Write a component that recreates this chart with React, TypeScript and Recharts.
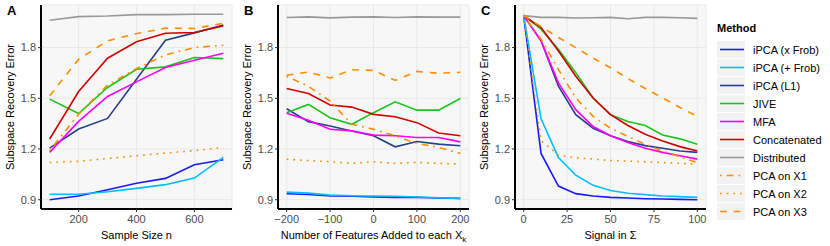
import { LineChart, Line, XAxis, YAxis, CartesianGrid } from 'recharts'

const FONT = '"Liberation Sans", Arial, Helvetica, sans-serif'

// panel A: sample size
const sampleSize = [100, 200, 300, 400, 500, 600, 700]
const aXFrob = [0.9, 0.922, 0.959, 0.997, 1.026, 1.107, 1.136]
const aPFrob = [0.932, 0.932, 0.947, 0.967, 0.989, 1.028, 1.15]
const aL1 = [1.205, 1.318, 1.381, 1.613, 1.844, 1.887, 1.934]
const aJive = [1.495, 1.41, 1.564, 1.672, 1.686, 1.741, 1.735]
const aMfa = [1.18, 1.363, 1.511, 1.597, 1.682, 1.725, 1.767]
const aConcat = [1.259, 1.54, 1.737, 1.834, 1.885, 1.889, 1.928]
const aDist = [1.962, 1.983, 1.987, 1.995, 1.995, 1.997, 1.997]
const aX1 = [1.19, 1.406, 1.578, 1.676, 1.757, 1.8, 1.814]
const aX2 = [1.12, 1.127, 1.144, 1.16, 1.176, 1.19, 1.209]
const aX3 = [1.515, 1.731, 1.84, 1.883, 1.915, 1.913, 1.944]

// panel B: features added
const featuresAdded = [-200, -150, -100, -50, 0, 50, 100, 150, 200]
const bXFrob = [0.935, 0.931, 0.922, 0.92, 0.916, 0.914, 0.914, 0.91, 0.908]
const bPFrob = [0.945, 0.939, 0.927, 0.923, 0.922, 0.92, 0.916, 0.912, 0.908]
const bL1 = [1.438, 1.362, 1.336, 1.307, 1.278, 1.213, 1.244, 1.229, 1.219]
const bJive = [1.415, 1.464, 1.385, 1.346, 1.415, 1.479, 1.43, 1.43, 1.499]
const bMfa = [1.411, 1.37, 1.317, 1.307, 1.282, 1.278, 1.268, 1.268, 1.242]
const bConcat = [1.558, 1.528, 1.46, 1.448, 1.405, 1.391, 1.356, 1.295, 1.278]
const bDist = [1.978, 1.982, 1.976, 1.98, 1.982, 1.978, 1.982, 1.98, 1.98]
const bX1 = [1.63, 1.571, 1.483, 1.346, 1.317, 1.278, 1.233, 1.209, 1.174]
const bX2 = [1.139, 1.131, 1.125, 1.115, 1.125, 1.115, 1.121, 1.115, 1.111]
const bX3 = [1.636, 1.655, 1.62, 1.669, 1.665, 1.606, 1.659, 1.648, 1.654]

// panel C: signal
const signal = [0, 10, 20, 30, 40, 50, 60, 70, 80, 90, 100]
const cXFrob = [1.989, 1.174, 0.981, 0.936, 0.922, 0.914, 0.91, 0.906, 0.904, 0.902, 0.9]
const cPFrob = [1.989, 1.379, 1.15, 1.045, 0.985, 0.954, 0.938, 0.93, 0.922, 0.918, 0.914]
const cL1 = [1.989, 1.84, 1.572, 1.403, 1.323, 1.278, 1.244, 1.22, 1.204, 1.188, 1.18]
const cJive = [1.989, 1.909, 1.79, 1.651, 1.502, 1.403, 1.363, 1.339, 1.283, 1.26, 1.228]
const cMfa = [1.989, 1.84, 1.591, 1.433, 1.333, 1.278, 1.238, 1.204, 1.18, 1.16, 1.14]
const cConcat = [1.989, 1.919, 1.78, 1.631, 1.502, 1.403, 1.339, 1.287, 1.248, 1.214, 1.188]
const cDist = [1.989, 1.979, 1.979, 1.975, 1.977, 1.979, 1.971, 1.979, 1.979, 1.977, 1.973]
const cX1 = [1.989, 1.85, 1.671, 1.502, 1.393, 1.323, 1.274, 1.228, 1.188, 1.154, 1.119]
const cX2 = [1.989, 1.25, 1.164, 1.148, 1.14, 1.132, 1.128, 1.125, 1.12, 1.115, 1.111]
const cX3 = [1.989, 1.925, 1.86, 1.8, 1.737, 1.681, 1.617, 1.558, 1.502, 1.446, 1.393]

const yTicks = [0.9, 1.2, 1.5, 1.8]
const aTicks = [200, 400, 600]
const bTicks = [-200, -100, 0, 100, 200]
const cTicks = [0, 25, 50, 75, 100]

const METHODS = [
    { key: 'xFrob', name: 'iPCA (x Frob)', color: '#1a1aff', dash: undefined },
    { key: 'pFrob', name: 'iPCA (+ Frob)', color: '#00bfff', dash: undefined },
    { key: 'l1', name: 'iPCA (L1)', color: '#27408b', dash: undefined },
    { key: 'jive', name: 'JIVE', color: '#19c519', dash: undefined },
    { key: 'mfa', name: 'MFA', color: '#ff00ff', dash: undefined },
    { key: 'concat', name: 'Concatenated', color: '#d40000', dash: undefined },
    { key: 'dist', name: 'Distributed', color: '#999999', dash: undefined },
    { key: 'x1', name: 'PCA on X1', color: '#ff8c00', dash: '1.7 5 6.8 5' },
    { key: 'x2', name: 'PCA on X2', color: '#ff8c00', dash: '1.7 5' },
    { key: 'x3', name: 'PCA on X3', color: '#ff8c00', dash: '6.8 6.8' },
]

function buildRows(xs: number[], cols: number[][]) {
    return xs.map((x, i) => {
        const row: any = { x }
        METHODS.forEach((m, j) => { row[m.key] = cols[j][i] })
        return row
    })
}

const dataA = buildRows(sampleSize, [aXFrob, aPFrob, aL1, aJive, aMfa, aConcat, aDist, aX1, aX2, aX3])
const dataB = buildRows(featuresAdded, [bXFrob, bPFrob, bL1, bJive, bMfa, bConcat, bDist, bX1, bX2, bX3])
const dataC = buildRows(signal, [cXFrob, cPFrob, cL1, cJive, cMfa, cConcat, cDist, cX1, cX2, cX3])

const tickStyle = { fill: '#4d4d4d', fontSize: 11, fontFamily: FONT }

function Panel({ letter, data, xDomain, xTicks, xLabel, left }: any) {
    return (
        <div style={{ position: 'absolute', left, top: 0, width: 237, height: 246 }}>
            <LineChart width={237} height={246} data={data} margin={{ top: 5, right: 5, bottom: 0, left: 0 }}>
                <CartesianGrid fill="#f7f7f7" stroke="#e8e8e8" strokeWidth={1} />
                <XAxis
                    dataKey="x"
                    type="number"
                    domain={xDomain}
                    ticks={xTicks}
                    height={37}
                    tickSize={3}
                    tickMargin={3}
                    tick={tickStyle}
                    tickFormatter={(v: number) => String(v).replace('-', '\u2212')}
                    axisLine={{ stroke: '#000', strokeWidth: 2 }}
                    tickLine={{ stroke: '#333' }}
                    label={xLabel}
                />
                <YAxis
                    type="number"
                    domain={[0.845, 2.052]}
                    ticks={yTicks}
                    width={41}
                    tickSize={3}
                    tickMargin={2}
                    tick={tickStyle}
                    tickFormatter={(v: number) => v.toFixed(1)}
                    axisLine={{ stroke: '#000', strokeWidth: 2 }}
                    tickLine={{ stroke: '#333' }}
                    label={{
                        value: 'Subspace Recovery Error',
                        angle: -90,
                        position: 'insideLeft',
                        offset: 10,
                        style: { textAnchor: 'middle', fill: '#000', fontSize: 11, fontFamily: FONT },
                    }}
                />
                {METHODS.map((m) => (
                    <Line
                        key={m.key}
                        dataKey={m.key}
                        stroke={m.color}
                        strokeWidth={1.6}
                        strokeDasharray={m.dash}
                        dot={false}
                        type="linear"
                        isAnimationActive={false}
                    />
                ))}
            </LineChart>
            <div style={{ position: 'absolute', left: 7, top: 3, fontFamily: FONT, fontWeight: 'bold', fontSize: 13 }}>{letter}</div>
        </div>
    )
}

function xLabelText(content: any) {
    return ({ viewBox }: any) => {
        const cx = viewBox.x + viewBox.width / 2
        const y = viewBox.y + viewBox.height - 7
        return (
            <text x={cx} y={y} textAnchor="middle" fill="#000" fontSize={11} fontFamily={FONT}>
                {content}
            </text>
        )
    }
}

function Legend() {
    return (
        <div style={{ position: 'absolute', left: 717, top: 0, fontFamily: FONT, fontSize: 11 }}>
            <div style={{ position: 'absolute', top: 22, left: 0, fontWeight: 'bold', whiteSpace: 'nowrap' }}>Method</div>
            {METHODS.map((m, i) => (
                <div key={m.key} style={{ position: 'absolute', top: 41 + i * 18, left: 0, height: 17, display: 'flex', alignItems: 'center', whiteSpace: 'nowrap' }}>
                    <svg width={28} height={17} style={{ background: '#f2f2f2' }}>
                        <line x1={3} x2={27} y1={8.5} y2={8.5} stroke={m.color} strokeWidth={1.6} strokeDasharray={m.dash} />
                    </svg>
                    <span style={{ marginLeft: 8 }}>{m.name}</span>
                </div>
            ))}
        </div>
    )
}

export default function App() {
    return (
        <div style={{ position: 'fixed', left: 0, top: 0, width: 830, height: 246, background: '#fff' }}>
            <Panel letter="A" left={0} data={dataA} xDomain={[70, 730]} xTicks={aTicks} xLabel={{ content: xLabelText('Sample Size n') }} />
            <Panel
                letter="B"
                left={237}
                data={dataB}
                xDomain={[-220, 220]}
                xTicks={bTicks}
                xLabel={{ content: xLabelText(<>Number of Features Added to each X<tspan dy={3} fontSize={8}>k</tspan></>) }}
            />
            <Panel letter="C" left={474} data={dataC} xDomain={[-5, 105]} xTicks={cTicks} xLabel={{ content: xLabelText('Signal in \u03a3') }} />
            <Legend />
        </div>
    )
}
